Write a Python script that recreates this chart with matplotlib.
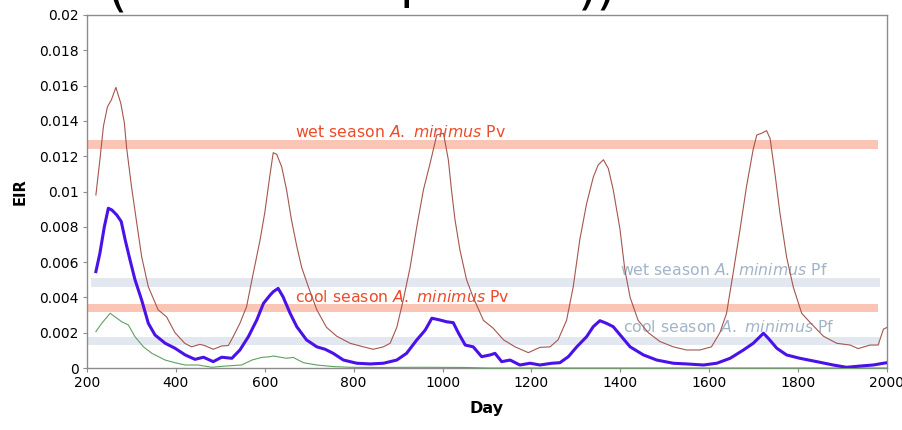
import matplotlib
matplotlib.use("Agg")
import matplotlib.pyplot as plt

# ---------------- data ----------------
brown_days = [220,229,237,246,255,265,276,284,289,300,312,323,338,360,379,398,420,435,454,465,484,503,518,529,544,559,574,589,600,612,619,627,638,649,660,672,683,698,717,739,762,792,822,844,867,882,897,912,927,942,957,972,987,1002,1013,1020,1028,1039,1054,1069,1092,1114,1137,1163,1193,1219,1242,1260,1279,1294,1309,1324,1339,1350,1362,1373,1384,1399,1410,1422,1440,1463,1489,1519,1549,1579,1605,1624,1639,1654,1669,1684,1699,1707,1718,1729,1737,1748,1759,1774,1789,1808,1830,1857,1887,1917,1935,1962,1980,1992,2000]
brown_vals = [0.0098,0.0118,0.0137,0.0148,0.0152,0.0159,0.0150,0.0139,0.0125,0.0103,0.0082,0.0063,0.0046,0.0033,0.0029,0.0020,0.0014,0.0012,0.00134,0.00127,0.00106,0.00125,0.00127,0.00178,0.00253,0.00347,0.00536,0.0072,0.0088,0.0110,0.0122,0.0121,0.0114,0.0101,0.0084,0.0069,0.0057,0.0046,0.0033,0.0023,0.0018,0.0014,0.0012,0.00106,0.0012,0.0014,0.0023,0.0039,0.0057,0.0080,0.0101,0.0116,0.0132,0.0133,0.0118,0.0101,0.0084,0.0067,0.0050,0.0040,0.0027,0.00225,0.0016,0.0012,0.00087,0.00117,0.0012,0.0016,0.0027,0.0046,0.0073,0.0093,0.0108,0.0115,0.0118,0.0113,0.0101,0.0079,0.0056,0.0040,0.0027,0.0020,0.0015,0.0012,0.00102,0.00102,0.0012,0.0020,0.0031,0.0054,0.0078,0.0103,0.0124,0.0132,0.0133,0.01345,0.0130,0.0110,0.0088,0.0063,0.0046,0.0031,0.0025,0.0018,0.0014,0.0013,0.0011,0.0013,0.0013,0.0022,0.0023]

blue_days = [220,229,239,248,256,267,277,286,297,308,323,338,353,376,398,421,443,462,484,503,526,544,563,582,597,612,619,630,641,657,672,694,717,736,754,777,807,837,867,897,919,942,961,976,994,1009,1024,1036,1051,1069,1088,1107,1118,1133,1152,1174,1197,1219,1246,1264,1283,1302,1324,1339,1354,1369,1384,1403,1422,1452,1482,1519,1549,1587,1617,1647,1677,1699,1714,1722,1733,1752,1774,1804,1842,1879,1909,1939,1969,1992,2000]
blue_vals = [0.00546,0.0065,0.0080,0.00905,0.00895,0.00867,0.0083,0.00725,0.0061,0.0050,0.00385,0.00253,0.00187,0.0014,0.00112,0.00074,0.00049,0.00061,0.00036,0.00061,0.00055,0.00102,0.00177,0.00272,0.00366,0.00413,0.00432,0.00451,0.00404,0.0031,0.00234,0.00159,0.0012,0.00106,0.00083,0.00045,0.00027,0.00023,0.00027,0.00045,0.00083,0.00159,0.00215,0.00282,0.00272,0.00262,0.00257,0.00197,0.0013,0.0012,0.00064,0.00074,0.00083,0.00036,0.00045,0.00017,0.00027,0.00017,0.00027,0.0003,0.00064,0.0012,0.00177,0.00234,0.00268,0.00253,0.00234,0.00177,0.0012,0.00074,0.00045,0.00027,0.00023,0.00017,0.00027,0.00055,0.00102,0.0014,0.00177,0.00197,0.00168,0.00112,0.00074,0.00055,0.00036,0.00017,0.00004,0.00011,0.00017,0.00027,0.0003]

green_days = [220,233,252,263,278,293,308,327,346,376,398,421,450,481,511,548,571,593,612,619,649,664,687,717,754,792,850,950,1050,1100,1500,2000]
green_vals = [0.00206,0.00253,0.0031,0.0029,0.00262,0.00244,0.00177,0.0012,0.00083,0.00045,0.0003,0.00017,0.00017,0.00004,0.00011,0.00017,0.00045,0.0006,0.00064,0.00068,0.00055,0.0006,0.0003,0.00017,0.00008,0.00004,0.00003,0.00004,0.00003,0.0,0.0,0.0]

band_labels = ["wet season", "cool season", "wet season", "cool season"]
band_species = ["A. minimus", "A. minimus", "A. minimus", "A. minimus"]
band_parasite = ["Pv", "Pv", "Pf", "Pf"]
band_levels = [0.01265, 0.0034, 0.00485, 0.00153]
band_start = [200, 202, 209, 202]
band_end = [1980, 1980, 1984, 1984]

x_ticks = [200, 400, 600, 800, 1000, 1200, 1400, 1600, 1800, 2000]
x_tick_labels = ["200", "400", "600", "800", "1000", "1200", "1400", "1600", "1800", "2000"]
y_ticks = [0, 0.002, 0.004, 0.006, 0.008, 0.01, 0.012, 0.014, 0.016, 0.018, 0.02]
y_tick_labels = ["0", "0.002", "0.004", "0.006", "0.008", "0.01", "0.012", "0.014", "0.016", "0.018", "0.02"]

# fragments of the (cut-off) heading visible at the top edge
heading_bits = ["(", "p", "))"]

# ---------------- styling ----------------
plt.rcParams['font.family'] = ['DejaVu Sans']
plt.rcParams['mathtext.fontset'] = 'custom'
plt.rcParams['mathtext.rm'] = 'DejaVu Sans'
plt.rcParams['mathtext.it'] = 'DejaVu Sans:italic'

PV_BAND = '#FBC5B6'
PF_BAND = '#E3E8F0'
PV_TEXT = '#EE4A2A'
PF_TEXT = '#A2B4C8'
GRID_GRAY = '#8C8C8C'

fig = plt.figure(figsize=(9.03, 4.30), dpi=100)
ax = fig.add_axes([87/903, 62/430, 800/903, 353/430])

band_half = 0.00024
for lvl, x0, x1, par in zip(band_levels, band_start, band_end, band_parasite):
    col = PV_BAND if par == "Pv" else PF_BAND
    ax.fill_between([x0, x1], [lvl - band_half]*2, [lvl + band_half]*2,
                    color=col, lw=0, zorder=1)

# labels
label_pos = [(668, 0.01339), (668, 0.00404), (1399, 0.00555), (1405, 0.00234)]
for (lx, ly), lab, sp, par in zip(label_pos, band_labels, band_species, band_parasite):
    col = PV_TEXT if par == "Pv" else PF_TEXT
    sp_tex = sp.replace(" ", r"\ ")
    ax.text(lx, ly, f"{lab} $\\mathit{{{sp_tex}}}$ {par}", color=col,
            fontsize=11.3, va='center', ha='left', zorder=2)

ax.plot(green_days, green_vals, color='#5DA35D', lw=0.8, zorder=3, clip_on=False)
ax.plot(brown_days, brown_vals, color='#A4564E', lw=0.8, zorder=4)
ax.plot(blue_days, blue_vals, color='#4A12E8', lw=2.2, zorder=5, solid_joinstyle='round')

ax.set_xlim(200, 2000)
ax.set_ylim(0, 0.02)
ax.set_xticks(x_ticks)
ax.set_xticklabels(x_tick_labels)
ax.set_yticks(y_ticks)
ax.set_yticklabels(y_tick_labels)

for s in ax.spines.values():
    s.set_color(GRID_GRAY)
    s.set_linewidth(1.0)
ax.tick_params(axis='both', direction='out', length=3, width=0.8, color=GRID_GRAY,
               labelsize=10, labelcolor='black', pad=3)
ax.set_xlabel("Day", fontsize=11.5, fontweight='bold', labelpad=8)
ax.set_ylabel("EIR", fontsize=10.5, fontweight='bold', labelpad=8)

# clipped remains of a large heading above the plot (as in the reference)
bit_pos = [(108/903, 1.0 - 6/430), (400/903, 1.0 + 2/430), (578/903, 1.0 - 4/430)]
for (tx, ty), ch in zip(bit_pos, heading_bits):
    fig.text(tx, ty, ch, fontsize=36, va='baseline', ha='left')

fig.savefig("out.png", dpi=100)
